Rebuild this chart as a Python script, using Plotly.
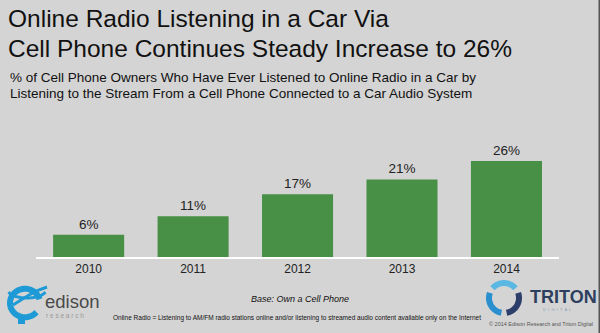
import numpy as np
import plotly.graph_objects as go

years = ["2010", "2011", "2012", "2013", "2014"]
shares = [6, 11, 17, 21, 26]

W, H = 600, 333
BG = "#d4d4d4"
GREEN = "#479046"

def px(x):
    return x / W

def py(y):
    return 1 - y / H

fig = go.Figure()
fig.add_trace(go.Bar(
    x=years, y=shares,
    marker=dict(color=GREEN, line=dict(width=0)),
    width=0.68,
    texttemplate="%{y}%", textposition="outside",
    textfont=dict(family="Liberation Sans, Arial", size=13.5, color="#222222"),
    cliponaxis=False, hoverinfo="skip",
))

shapes = []
# right dark border
shapes.append(dict(type="rect", xref="paper", yref="paper", x0=px(598.5), x1=1, y0=0, y1=1,
                   fillcolor="#555555", line=dict(width=0), layer="above"))

def poly_path(pts):
    s = "M %.5f %.5f" % (px(pts[0][0]), py(pts[0][1]))
    for x, y in pts[1:]:
        s += " L %.5f %.5f" % (px(x), py(y))
    return s

# edison swirl (logo approximation)
t = np.linspace(np.radians(15), np.radians(320), 40)
cx, cy, r = 25, 303, 15
pts = [(cx + r * np.cos(a), cy - r * 0.95 * np.sin(a)) for a in t]
shapes.append(dict(type="path", xref="paper", yref="paper", path=poly_path(pts),
                   line=dict(color="#1e9ad6", width=6)))
pts2 = [(13, 305), (24, 298), (36, 291), (47, 287)]
shapes.append(dict(type="path", xref="paper", yref="paper", path=poly_path(pts2),
                   line=dict(color="#1e9ad6", width=3)))
t3 = np.linspace(np.radians(195), np.radians(345), 20)
pts3 = [(27 + 19 * np.cos(a), 290 - 8 * np.sin(a)) for a in t3]
shapes.append(dict(type="path", xref="paper", yref="paper", path=poly_path(pts3),
                   line=dict(color="#1e9ad6", width=3)))
shapes.append(dict(type="rect", xref="paper", yref="paper", x0=px(18), x1=px(25), y0=py(324), y1=py(318),
                   fillcolor="#1e9ad6", line=dict(width=0)))

# triton ring (logo approximation)
tcx, tcy, tr = 504, 298, 15
for a0, a1, col in [(40, 140, "#5bb8e3"), (160, 260, "#2a8fcf"), (280, 380, "#2c3e6a")]:
    aa = np.radians(np.linspace(a0, a1, 25))
    p = [(tcx + tr * np.cos(a), tcy - tr * np.sin(a)) for a in aa]
    shapes.append(dict(type="path", xref="paper", yref="paper", path=poly_path(p),
                       line=dict(color=col, width=6)))

FONT = "Liberation Sans, Arial, sans-serif"
annotations = [
    dict(text="Online Radio Listening in a Car Via", x=px(6), y=py(18.5), xanchor="left", yanchor="middle",
         font=dict(family=FONT, size=24.5, color="#111111")),
    dict(text="Cell Phone Continues Steady Increase to 26%", x=px(6), y=py(48.5), xanchor="left", yanchor="middle",
         font=dict(family=FONT, size=24.5, color="#111111")),
    dict(text="% of Cell Phone Owners Who Have Ever Listened to Online Radio in a Car by", x=px(8), y=py(77),
         xanchor="left", yanchor="middle", font=dict(family=FONT, size=13.5, color="#111111")),
    dict(text="Listening to the Stream From a Cell Phone Connected to a Car Audio System", x=px(8), y=py(93),
         xanchor="left", yanchor="middle", font=dict(family=FONT, size=13.5, color="#111111")),
    dict(text="<i>Base: Own a Cell Phone</i>", x=px(300), y=py(299), xanchor="center", yanchor="middle",
         font=dict(family=FONT, size=9, color="#111111")),
    dict(text="Online Radio = Listening to AM/FM radio stations online and/or listening to streamed audio content available only on the Internet",
         x=px(297), y=py(318), xanchor="center", yanchor="middle",
         font=dict(family=FONT, size=6.5, color="#111111")),
    dict(text="© 2014 Edison Research and Triton Digital", x=px(541), y=py(324), xanchor="center", yanchor="middle",
         font=dict(family=FONT, size=5.5, color="#555555")),
    dict(text="edison", x=px(43), y=py(301), xanchor="left", yanchor="middle",
         font=dict(family=FONT, size=18.5, color="#4a4a4a")),
    dict(text="r e s e a r c h", x=px(44), y=py(315), xanchor="left", yanchor="middle",
         font=dict(family=FONT, size=6.5, color="#999999")),
    dict(text="<b>TRITON</b>", x=px(528), y=py(297), xanchor="left", yanchor="middle",
         font=dict(family="Liberation Sans Narrow, Liberation Sans, Arial", size=18, color="#2d3f5e")),
    dict(text="D  I  G  I  T  A  L", x=px(557), y=py(309), xanchor="center", yanchor="middle",
         font=dict(family=FONT, size=4, color="#8aa0b8")),
]
for a in annotations:
    a.update(xref="paper", yref="paper", showarrow=False)

fig.update_layout(
    width=W, height=H,
    margin=dict(l=0, r=0, t=0, b=0),
    paper_bgcolor=BG, plot_bgcolor=BG,
    showlegend=False,
    bargap=0.32,
    xaxis=dict(domain=[px(36.4), px(558.7)], showline=True, linecolor="white", linewidth=2,
               showgrid=False, ticks="", tickfont=dict(family=FONT, size=12, color="#222222"),
               fixedrange=True),
    yaxis=dict(domain=[py(257), py(146.2)], range=[0, 30], visible=False, fixedrange=True),
    shapes=shapes,
    annotations=annotations,
)

fig.write_html("out.html", config={"displayModeBar": False})
